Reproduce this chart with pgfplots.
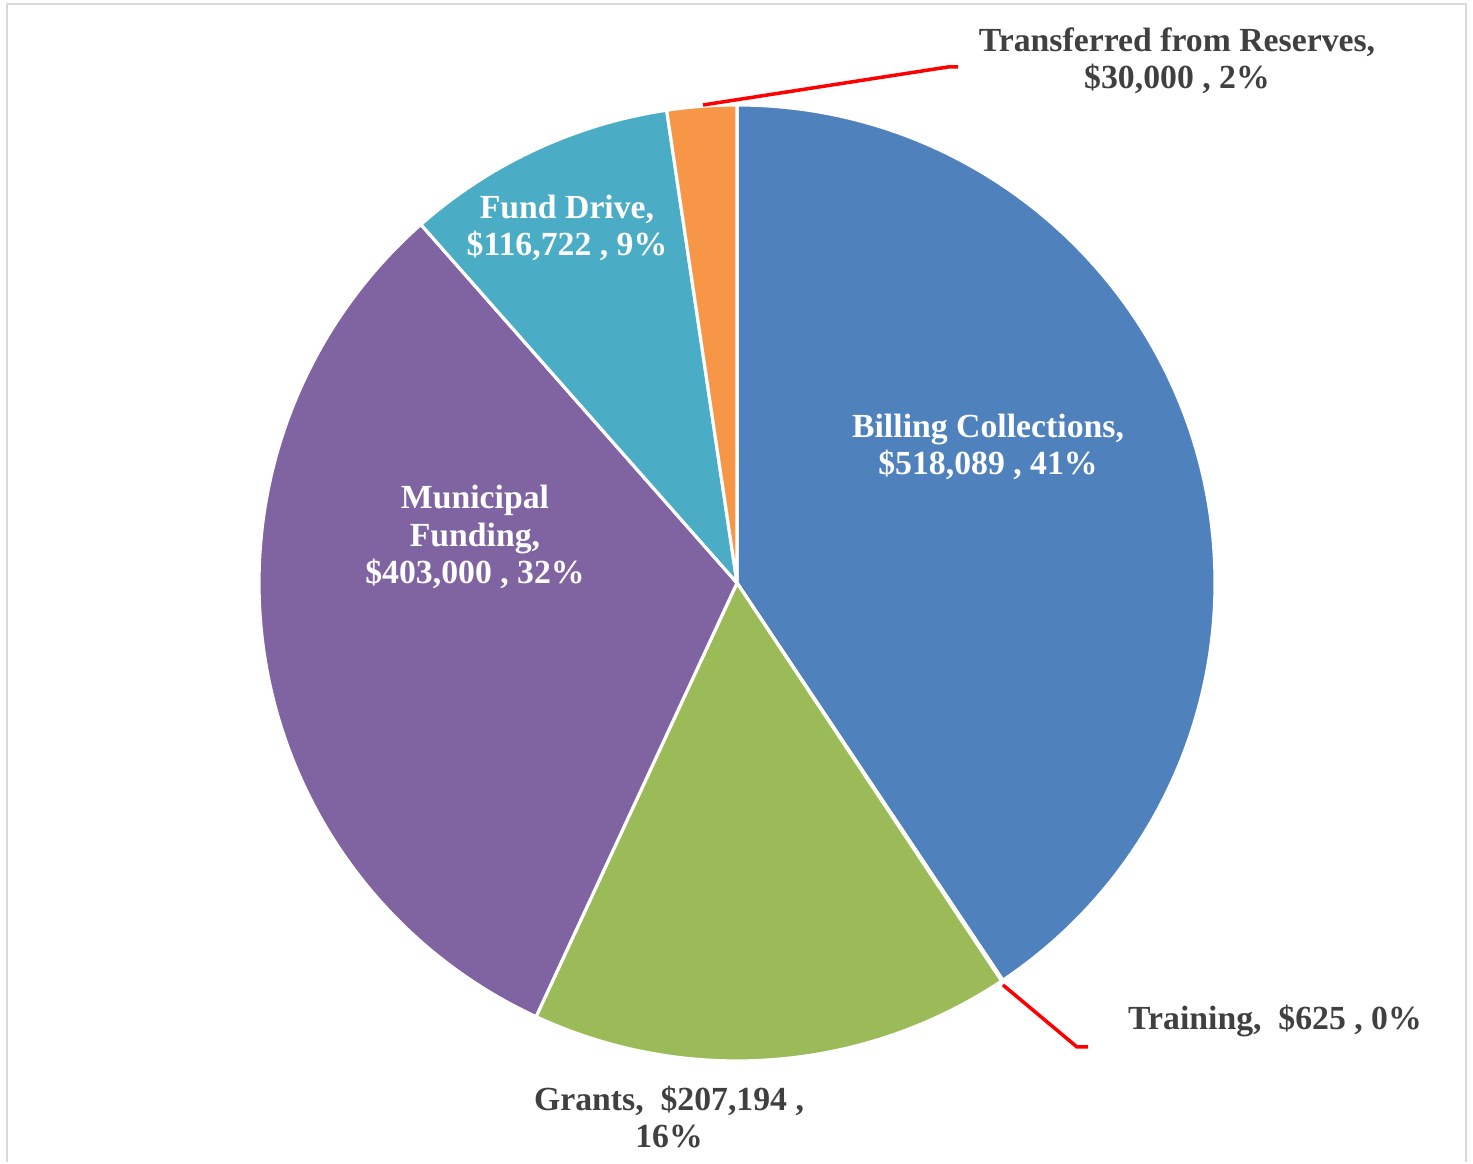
\documentclass[border=0pt]{standalone}
\usepackage{fontspec}
\setmainfont{Liberation Serif}
\usepackage{pgfplots}
\usepackage{pgfplotstable}
\pgfplotsset{compat=1.18}

\definecolor{billing}{HTML}{4F81BD}
\definecolor{training}{HTML}{C0504D}
\definecolor{grants}{HTML}{9BBB59}
\definecolor{municipal}{HTML}{8064A2}
\definecolor{fund}{HTML}{4BACC6}
\definecolor{reserves}{HTML}{F79646}
\definecolor{labelgray}{HTML}{404040}
\definecolor{framegray}{HTML}{D9D9D9}

\tikzset{
    lblw/.style={font=\bfseries\fontsize{9.6}{10.6}\selectfont, align=center, text=white},
    lblg/.style={font=\bfseries\fontsize{9.6}{10.6}\selectfont, align=center, text=labelgray},
}

% revenue sources, clockwise from 12 o'clock
\pgfplotstableread{
name       value   color
Billing    518089  billing
Training   625     training
Grants     207194  grants
Municipal  403000  municipal
Fund       116722  fund
Reserves   30000   reserves
}\budget

\begin{document}
\begin{tikzpicture}
\begin{axis}[
    xmin=0, xmax=1473,
    ymin=0, ymax=1162,
    width=14.73cm, height=11.62cm,
    scale only axis,
    hide axis,
    clip=false,
]
\path (axis cs:0,0) rectangle (axis cs:1473,1162);

% chart frame
\addplot[framegray, line width=0.6pt] coordinates {(7,0) (7,1158) (1466,1158) (1466,0)};

% total of all values
\def\total{0}
\pgfplotsforeachungrouped \i in {0,...,5} {
    \pgfplotstablegetelem{\i}{value}\of\budget
    \edef\total{\fpeval{\total+\pgfplotsretval}}
}

% slices
\def\startang{90}
\pgfplotsforeachungrouped \i in {0,...,5} {
    \pgfplotstablegetelem{\i}{value}\of\budget \let\v\pgfplotsretval
    \pgfplotstablegetelem{\i}{color}\of\budget \let\c\pgfplotsretval
    \edef\endang{\fpeval{\startang - 360*\v/\total}}
    \edef\temp{\noexpand\fill[\c, draw=white, line width=0.9pt, line join=round]
        (axis cs:737,579) -- ++(\startang:4.78cm)
        arc[start angle=\startang, end angle=\endang, radius=4.78cm] -- cycle;}
    \temp
    \let\startang\endang
}

% leader lines
\addplot[red, line width=1pt] coordinates {(703,1057) (948,1095) (958,1095)};
\addplot[red, line width=1pt] coordinates {(1003,177) (1077,115) (1088,115)};

% data labels
\node[lblw] at (axis cs:988,715) {Billing Collections,\\\$518,089 , 41\%};
\node[lblw] at (axis cs:475,625) {Municipal\\Funding,\\\$403,000 , 32\%};
\node[lblw] at (axis cs:567,934) {Fund Drive,\\\$116,722 , 9\%};
\node[lblg] at (axis cs:1177,1101) {Transferred from Reserves,\\\$30,000 , 2\%};
\node[lblg] at (axis cs:1275,141) {Training,~ \$625 , 0\%};
\node[lblg] at (axis cs:669,45) {Grants,~ \$207,194 ,\\16\%};
\end{axis}
\end{tikzpicture}
\end{document}
